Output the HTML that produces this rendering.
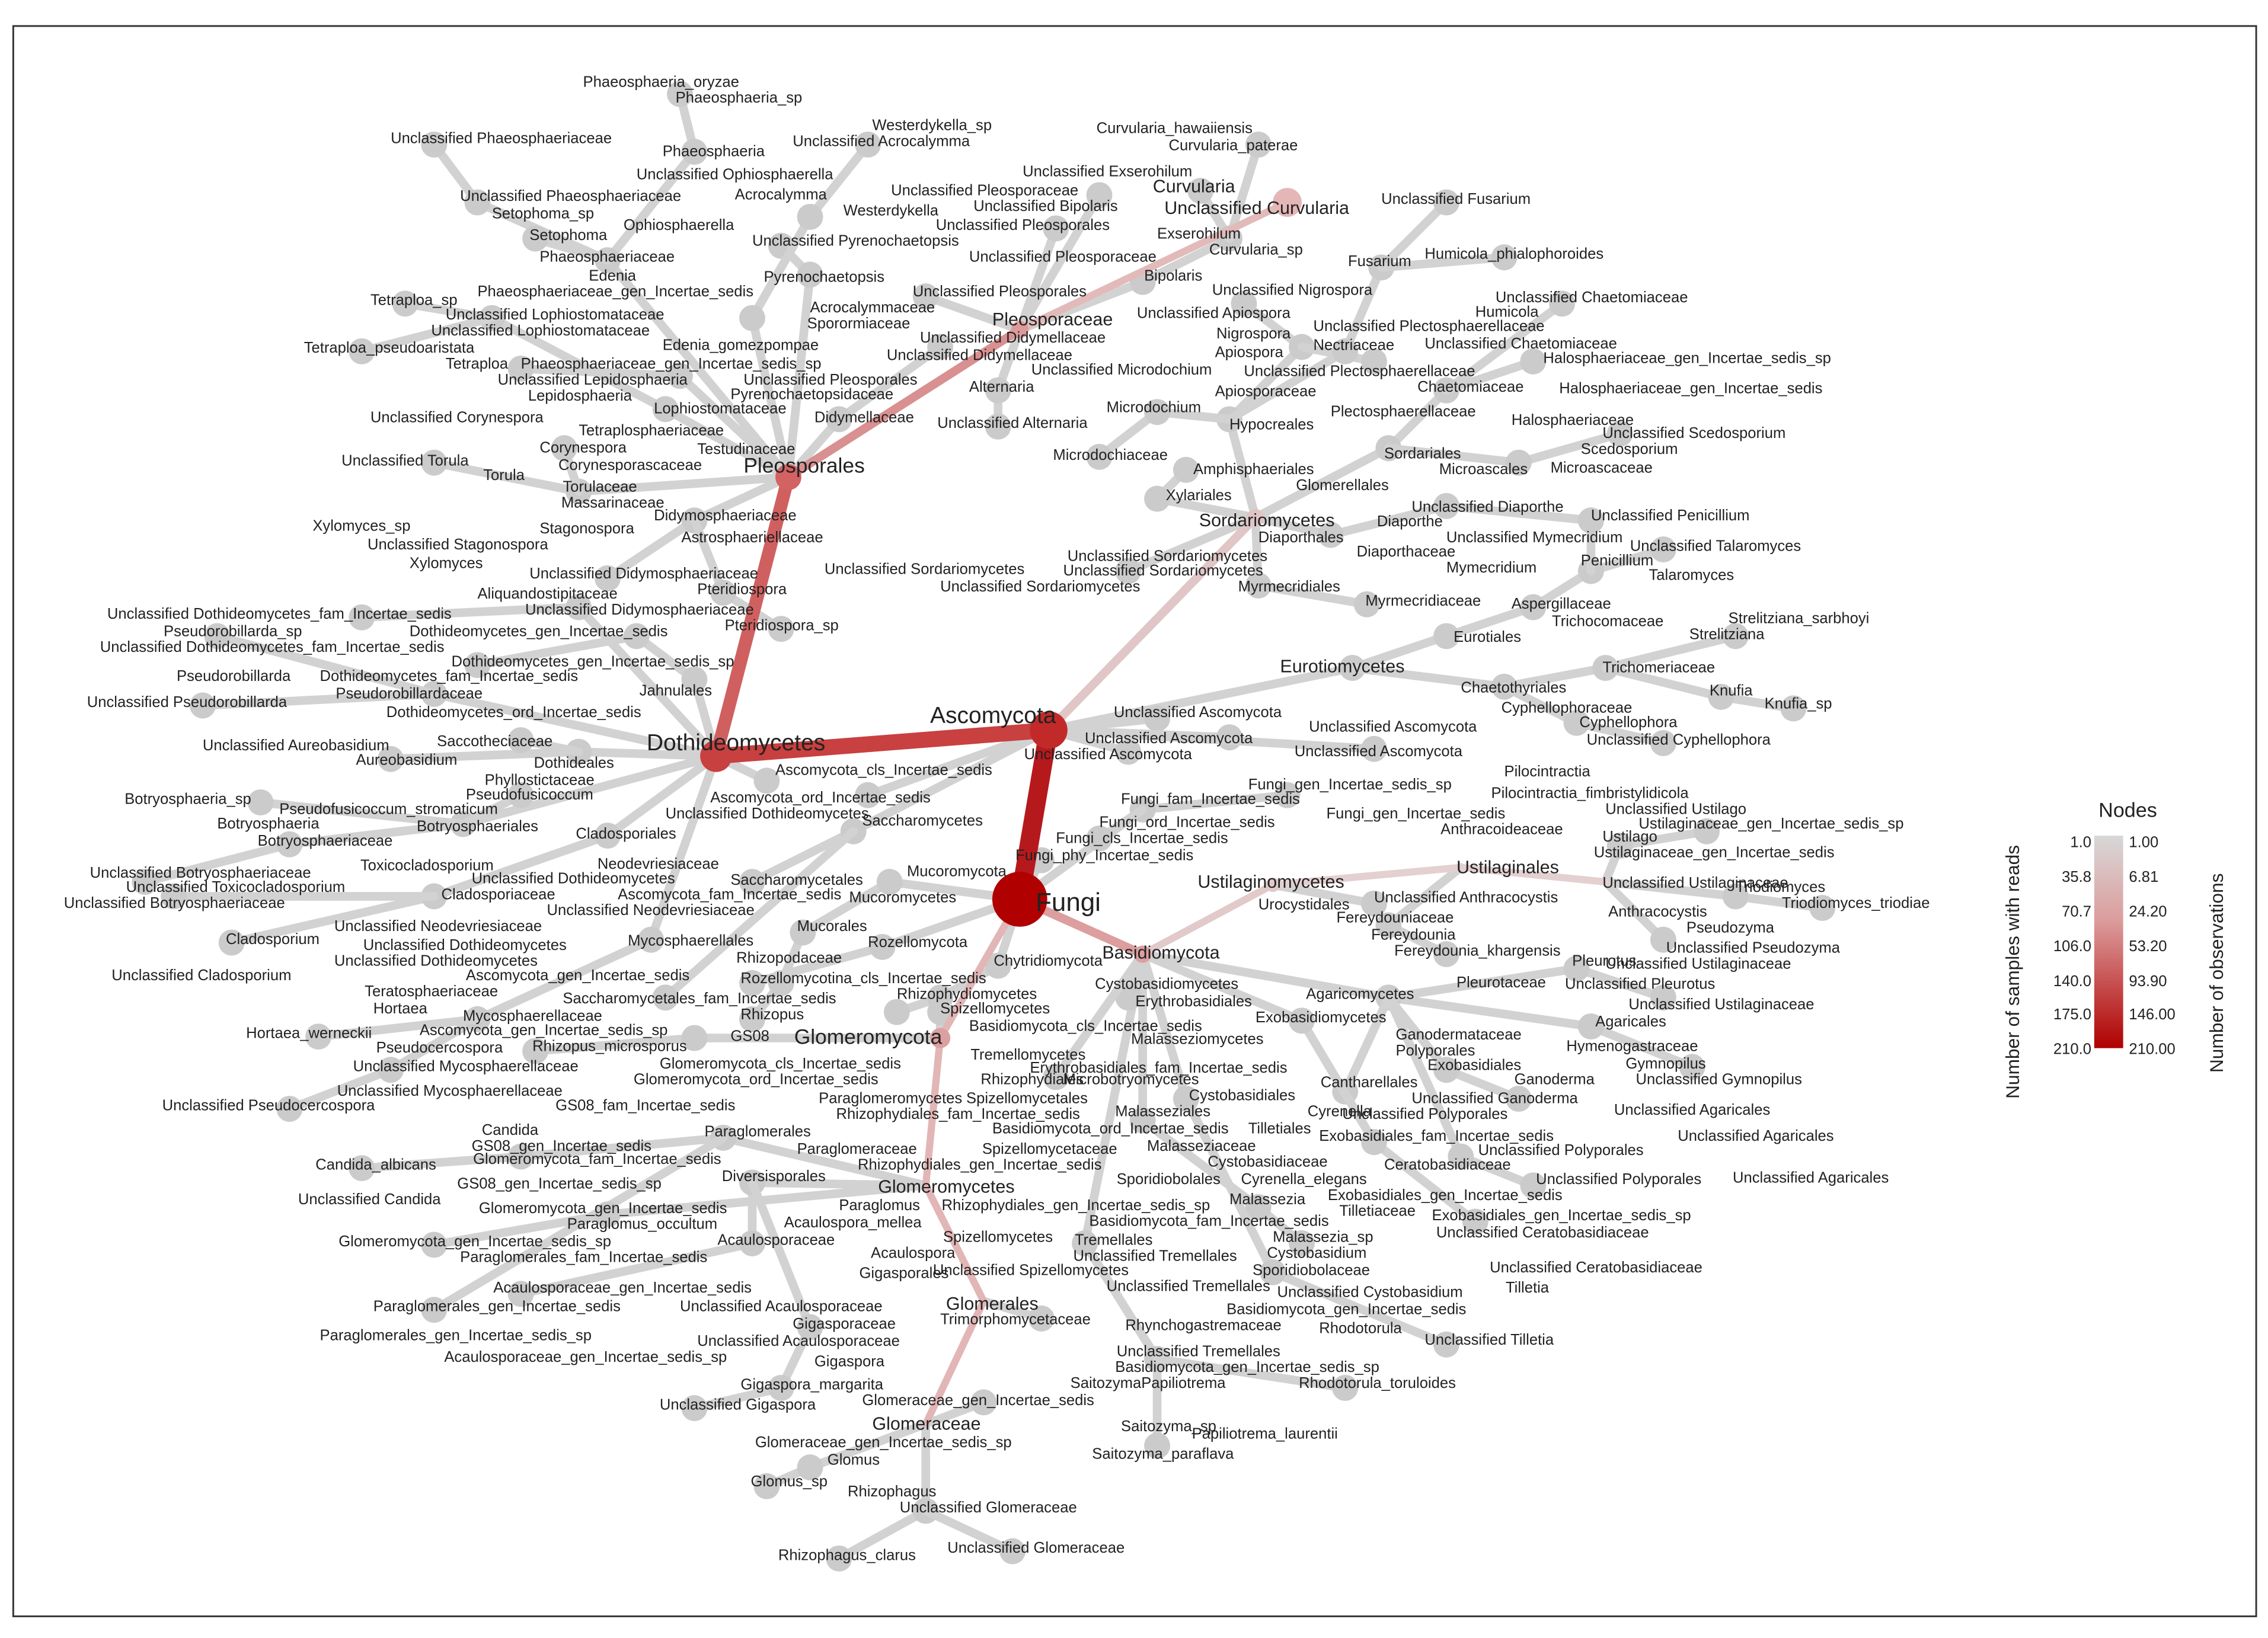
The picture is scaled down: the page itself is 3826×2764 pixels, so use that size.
<!DOCTYPE html>
<html><head><meta charset="utf-8">
<style>
html,body{margin:0;padding:0;background:#fff;}
svg{display:block;}
text{font-family:"Liberation Sans",sans-serif;fill:#222;font-size:10.5px;}
.b{font-size:12.5px;}
.g polyline{fill:none;stroke:#d2d2d2;stroke-width:6;stroke-linejoin:round;stroke-linecap:round;marker-mid:url(#dot);marker-end:url(#dot);}
</style></head><body>
<svg width="3826" height="2764" viewBox="0 0 1568 1133" xmlns="http://www.w3.org/2000/svg">
<defs>
<marker id="dot" markerWidth="4" markerHeight="4" refX="2" refY="2" markerUnits="strokeWidth"><circle cx="2" cy="2" r="1.5" fill="#cbcbcb"/></marker>
<linearGradient id="lg" x1="0" y1="0" x2="0" y2="1"><stop offset="0" stop-color="#d8d8d8"/><stop offset="0.4" stop-color="#dc9c9c"/><stop offset="1" stop-color="#b00000"/></linearGradient>
</defs>
<rect x="0" y="0" width="1568" height="1133" fill="#fff"/>
<rect x="9" y="18" width="1551" height="1100" fill="none" stroke="#333" stroke-width="1.2"/>

<g class="g">
<polyline points="725,505 935,462 1000,440 1060,420 1100,395 1150,380"/>
<polyline points="1100,395 1100,360"/>
<polyline points="935,462 1040,475 1110,462 1190,482 1240,490"/>
<polyline points="1110,462 1200,440"/>
<polyline points="1040,475 1090,500 1150,514"/>
<polyline points="725,505 800,497"/><polyline points="725,505 850,510"/><polyline points="725,505 950,518"/><polyline points="725,505 780,520"/>
<polyline points="868,358 850,290 900,240 860,210"/><polyline points="900,240 950,250"/>
<polyline points="850,290 800,285 760,316"/>
<polyline points="868,358 960,310 1000,270 1080,210"/><polyline points="1000,270 1060,250"/>
<polyline points="960,310 1050,320 1120,300"/>
<polyline points="868,358 920,370 1000,350 1100,360"/>
<polyline points="868,358 870,405 945,418"/><polyline points="868,358 780,395"/>
<polyline points="868,358 800,345 820,325"/>
<polyline points="850,290 930,243 955,185 1000,140"/><polyline points="955,185 1040,178"/>
<polyline points="705,228 790,195 850,165 830,132"/><polyline points="850,165 870,100"/>
<polyline points="705,228 760,135"/><polyline points="705,228 690,270 690,295"/>
<polyline points="705,228 730,158"/><polyline points="705,228 640,205"/>
<polyline points="545,330 420,180 480,105 470,65"/><polyline points="420,180 330,140 300,100"/>
<polyline points="420,180 370,165"/><polyline points="545,330 560,190 540,170"/>
<polyline points="545,330 460,283 340,220 280,210"/><polyline points="340,220 250,243"/>
<polyline points="545,330 580,290 650,240"/>
<polyline points="545,330 400,340 300,320"/><polyline points="400,340 390,310"/>
<polyline points="545,330 480,360 420,400"/><polyline points="480,360 500,410 540,435"/>
<polyline points="545,330 520,220 560,150 600,100"/><polyline points="545,330 470,260 360,255"/>
<polyline points="495,523 400,520 270,525"/><polyline points="400,520 360,512"/>
<polyline points="495,523 300,480 140,488"/><polyline points="300,480 150,440"/>
<polyline points="495,523 480,470 440,440 330,460"/>
<polyline points="495,523 320,570 200,584 100,610"/><polyline points="320,570 180,555"/><polyline points="320,570 360,550"/>
<polyline points="495,523 420,578 300,620 160,652"/><polyline points="300,620 120,620"/>
<polyline points="495,523 450,650 330,705 270,740 200,767"/><polyline points="330,705 220,717"/>
<polyline points="495,523 400,420 250,427"/><polyline points="495,523 530,540"/>
<polyline points="725,505 590,575 520,610"/><polyline points="590,575 460,690"/><polyline points="725,505 600,550"/>
<polyline points="705,622 615,610 555,645 540,680 520,705"/><polyline points="705,622 610,655 520,680"/>
<polyline points="705,622 690,668 650,690 620,700"/>
<polyline points="705,622 790,560 890,550"/><polyline points="790,560 760,580"/><polyline points="705,622 720,595"/>
<polyline points="1010,600 960,640 1000,660"/><polyline points="880,612 950,625"/>
<polyline points="1110,610 1200,620 1260,628"/><polyline points="1110,610 1120,585 1180,575"/><polyline points="1110,610 1150,650"/>
<polyline points="790,660 960,690 1100,710 1170,738"/><polyline points="960,690 1000,740 1050,760"/>
<polyline points="960,690 1010,800 1060,820"/><polyline points="960,690 930,755"/>
<polyline points="960,690 1090,670 1150,690"/>
<polyline points="790,660 900,706 950,790 1020,845"/>
<polyline points="790,660 790,775 870,835 900,860"/>
<polyline points="790,660 820,760 880,880 1000,930"/>
<polyline points="790,660 750,860 800,940 800,1000"/><polyline points="800,940 930,960"/>
<polyline points="790,660 780,690"/><polyline points="790,660 730,745"/>
<polyline points="650,718 480,718 370,727"/>
<polyline points="640,820 500,787 360,800 250,808"/><polyline points="500,787 300,906"/>
<polyline points="640,820 520,818 520,860 360,895"/>
<polyline points="520,818 560,918 540,960 480,974"/>
<polyline points="640,820 420,840 300,861"/><polyline points="650,718 650,700"/>
<polyline points="680,900 720,912"/>
<polyline points="640,985 640,1045 580,1078"/><polyline points="640,1045 700,1073"/>
<polyline points="640,985 560,1015 530,1028"/><polyline points="640,985 680,970"/>
</g>

<g fill="none" stroke-linecap="round">
<line x1="705" y1="228" x2="890" y2="140" stroke="#e2baba" stroke-width="5"/>
<line x1="725" y1="505" x2="868" y2="358" stroke="#e0c6c6" stroke-width="6"/>
<line x1="790" y1="660" x2="880" y2="612" stroke="#e2caca" stroke-width="5"/>
<polyline points="880,612 1010,600 1110,610" stroke="#e4d0d0" stroke-width="5"/>
<line x1="705" y1="622" x2="790" y2="660" stroke="#dc9e9e" stroke-width="6"/>
<polyline points="705,622 650,718 640,820 680,900 640,985" stroke="#e2b6b6" stroke-width="5"/>
<line x1="545" y1="330" x2="705" y2="228" stroke="#d99090" stroke-width="6"/>
<line x1="495" y1="523" x2="545" y2="330" stroke="#d06060" stroke-width="9"/>
<line x1="725" y1="505" x2="495" y2="523" stroke="#c8403f" stroke-width="11"/>
<line x1="705" y1="622" x2="725" y2="505" stroke="#b6191c" stroke-width="13"/>
</g>
<circle cx="890" cy="140" r="10" fill="#e4b6b6"/>
<circle cx="705" cy="228" r="6" fill="#dd9a9a"/>
<circle cx="545" cy="330" r="9" fill="#d36262"/>
<circle cx="495" cy="523" r="11" fill="#c94040"/>
<circle cx="725" cy="505" r="13" fill="#c22a2a"/>
<circle cx="790" cy="660" r="6" fill="#dca0a0"/>
<circle cx="650" cy="718" r="7" fill="#dca0a0"/>
<circle cx="868" cy="358" r="6" fill="#e0c4c4"/>
<circle cx="880" cy="612" r="5" fill="#e2caca"/>
<circle cx="705" cy="622" r="19" fill="#b00000"/>

<g>
<text x="403" y="60">Phaeosphaeria_oryzae</text>
<text x="467" y="71">Phaeosphaeria_sp</text>
<text x="270" y="99">Unclassified Phaeosphaeriaceae</text>
<text x="603" y="90">Westerdykella_sp</text>
<text x="758" y="92">Curvularia_hawaiiensis</text>
<text x="458" y="108">Phaeosphaeria</text>
<text x="548" y="101">Unclassified Acrocalymma</text>
<text x="808" y="104">Curvularia_paterae</text>
<text x="440" y="124">Unclassified Ophiosphaerella</text>
<text x="707" y="122">Unclassified Exserohilum</text>
<text x="318" y="139">Unclassified Phaeosphaeriaceae</text>
<text x="508" y="138">Acrocalymma</text>
<text x="616" y="135">Unclassified Pleosporaceae</text>
<text class="b" x="797" y="133">Curvularia</text>
<text x="340" y="151">Setophoma_sp</text>
<text x="583" y="149">Westerdykella</text>
<text x="673" y="146">Unclassified Bipolaris</text>
<text class="b" x="805" y="148">Unclassified Curvularia</text>
<text x="955" y="141">Unclassified Fusarium</text>
<text x="431" y="159">Ophiosphaerella</text>
<text x="647" y="159">Unclassified Pleosporales</text>
<text x="366" y="166">Setophoma</text>
<text x="520" y="170">Unclassified Pyrenochaetopsis</text>
<text x="800" y="165">Exserohilum</text>
<text x="836" y="176">Curvularia_sp</text>
<text x="373" y="181">Phaeosphaeriaceae</text>
<text x="670" y="181">Unclassified Pleosporaceae</text>
<text x="932" y="184">Fusarium</text>
<text x="985" y="179">Humicola_phialophoroides</text>
<text x="407" y="194">Edenia</text>
<text x="528" y="195">Pyrenochaetopsis</text>
<text x="791" y="194">Bipolaris</text>
<text x="256" y="211">Tetraploa_sp</text>
<text x="330" y="205">Phaeosphaeriaceae_gen_Incertae_sedis</text>
<text x="631" y="205">Unclassified Pleosporales</text>
<text x="838" y="204">Unclassified Nigrospora</text>
<text x="1034" y="209">Unclassified Chaetomiaceae</text>
<text x="308" y="221">Unclassified Lophiostomataceae</text>
<text x="560" y="216">Acrocalymmaceae</text>
<text class="b" x="686" y="225">Pleosporaceae</text>
<text x="786" y="220">Unclassified Apiospora</text>
<text x="1020" y="219">Humicola</text>
<text x="298" y="232">Unclassified Lophiostomataceae</text>
<text x="558" y="227">Sporormiaceae</text>
<text x="636" y="237">Unclassified Didymellaceae</text>
<text x="841" y="234">Nigrospora</text>
<text x="908" y="229">Unclassified Plectosphaerellaceae</text>
<text x="210" y="244">Tetraploa_pseudoaristata</text>
<text x="458" y="242">Edenia_gomezpompae</text>
<text x="613" y="249">Unclassified Didymellaceae</text>
<text x="840" y="247">Apiospora</text>
<text x="908" y="242">Nectriaceae</text>
<text x="985" y="241">Unclassified Chaetomiaceae</text>
<text x="1067" y="251">Halosphaeriaceae_gen_Incertae_sedis_sp</text>
<text x="308" y="255">Tetraploa</text>
<text x="360" y="255">Phaeosphaeriaceae_gen_Incertae_sedis_sp</text>
<text x="713" y="259">Unclassified Microdochium</text>
<text x="860" y="260">Unclassified Plectosphaerellaceae</text>
<text x="344" y="266">Unclassified Lepidosphaeria</text>
<text x="514" y="266">Unclassified Pleosporales</text>
<text x="670" y="271">Alternaria</text>
<text x="980" y="271">Chaetomiaceae</text>
<text x="1078" y="272">Halosphaeriaceae_gen_Incertae_sedis</text>
<text x="365" y="277">Lepidosphaeria</text>
<text x="505" y="276">Pyrenochaetopsidaceae</text>
<text x="840" y="274">Apiosporaceae</text>
<text x="452" y="286">Lophiostomataceae</text>
<text x="765" y="285">Microdochium</text>
<text x="920" y="288">Plectosphaerellaceae</text>
<text x="256" y="292">Unclassified Corynespora</text>
<text x="563" y="292">Didymellaceae</text>
<text x="648" y="296">Unclassified Alternaria</text>
<text x="850" y="297">Hypocreales</text>
<text x="1045" y="294">Halosphaeriaceae</text>
<text x="400" y="301">Tetraplosphaeriaceae</text>
<text x="1108" y="303">Unclassified Scedosporium</text>
<text x="373" y="313">Corynespora</text>
<text x="482" y="314">Testudinaceae</text>
<text x="1093" y="314">Scedosporium</text>
<text x="236" y="322">Unclassified Torula</text>
<text x="386" y="325">Corynesporascaceae</text>
<text x="514" y="327" style="font-size:14.5px">Pleosporales</text>
<text x="728" y="318">Microdochiaceae</text>
<text x="957" y="317">Sordariales</text>
<text x="334" y="332">Torula</text>
<text x="825" y="328">Amphisphaeriales</text>
<text x="995" y="328">Microascales</text>
<text x="1072" y="327">Microascaceae</text>
<text x="389" y="340">Torulaceae</text>
<text x="896" y="339">Glomerellales</text>
<text x="388" y="351">Massarinaceae</text>
<text x="806" y="346">Xylariales</text>
<text x="976" y="354">Unclassified Diaporthe</text>
<text x="452" y="360">Didymosphaeriaceae</text>
<text x="1100" y="360">Unclassified Penicillium</text>
<text x="216" y="367">Xylomyces_sp</text>
<text x="373" y="369">Stagonospora</text>
<text class="b" x="829" y="364">Sordariomycetes</text>
<text x="952" y="364">Diaporthe</text>
<text x="254" y="380">Unclassified Stagonospora</text>
<text x="471" y="375">Astrosphaeriellaceae</text>
<text x="870" y="375">Diaporthales</text>
<text x="1000" y="375">Unclassified Mymecridium</text>
<text x="1127" y="381">Unclassified Talaromyces</text>
<text x="938" y="385">Diaporthaceae</text>
<text x="1093" y="391">Penicillium</text>
<text x="283" y="393">Xylomyces</text>
<text x="738" y="388">Unclassified Sordariomycetes</text>
<text x="1000" y="396">Mymecridium</text>
<text x="366" y="400">Unclassified Didymosphaeriaceae</text>
<text x="570" y="397">Unclassified Sordariomycetes</text>
<text x="735" y="398">Unclassified Sordariomycetes</text>
<text x="1140" y="401">Talaromyces</text>
<text x="482" y="411">Pteridiospora</text>
<text x="650" y="409">Unclassified Sordariomycetes</text>
<text x="856" y="409">Myrmecridiales</text>
<text x="330" y="414">Aliquandostipitaceae</text>
<text x="944" y="419">Myrmecridiaceae</text>
<text x="1045" y="421">Aspergillaceae</text>
<text x="74" y="428">Unclassified Dothideomycetes_fam_Incertae_sedis</text>
<text x="363" y="425">Unclassified Didymosphaeriaceae</text>
<text x="1195" y="431">Strelitziana_sarbhoyi</text>
<text x="1073" y="433">Trichocomaceae</text>
<text x="113" y="440">Pseudorobillarda_sp</text>
<text x="283" y="440">Dothideomycetes_gen_Incertae_sedis</text>
<text x="501" y="436">Pteridiospora_sp</text>
<text x="1005" y="444">Eurotiales</text>
<text x="1168" y="442">Strelitziana</text>
<text x="69" y="451">Unclassified Dothideomycetes_fam_Incertae_sedis</text>
<text x="312" y="461">Dothideomycetes_gen_Incertae_sedis_sp</text>
<text class="b" x="885" y="465">Eurotiomycetes</text>
<text x="1108" y="465">Trichomeriaceae</text>
<text x="122" y="471">Pseudorobillarda</text>
<text x="221" y="471">Dothideomycetes_fam_Incertae_sedis</text>
<text x="442" y="481">Jahnulales</text>
<text x="1010" y="479">Chaetothyriales</text>
<text x="1182" y="481">Knufia</text>
<text x="232" y="483">Pseudorobillardaceae</text>
<text x="60" y="489">Unclassified Pseudorobillarda</text>
<text x="267" y="496">Dothideomycetes_ord_Incertae_sedis</text>
<text x="643" y="500" style="font-size:16px">Ascomycota</text>
<text x="770" y="496">Unclassified Ascomycota</text>
<text x="1038" y="493">Cyphellophoraceae</text>
<text x="1220" y="490">Knufia_sp</text>
<text x="1092" y="503">Cyphellophora</text>
<text x="905" y="506">Unclassified Ascomycota</text>
<text x="140" y="519">Unclassified Aureobasidium</text>
<text x="302" y="516">Saccotheciaceae</text>
<text x="447" y="519" style="font-size:16px">Dothideomycetes</text>
<text x="750" y="514">Unclassified Ascomycota</text>
<text x="1097" y="515">Unclassified Cyphellophora</text>
<text x="246" y="529">Aureobasidium</text>
<text x="708" y="525">Unclassified Ascomycota</text>
<text x="895" y="523">Unclassified Ascomycota</text>
<text x="369" y="531">Dothideales</text>
<text x="536" y="536">Ascomycota_cls_Incertae_sedis</text>
<text x="1040" y="537">Pilocintractia</text>
<text x="335" y="543">Phyllostictaceae</text>
<text x="863" y="546">Fungi_gen_Incertae_sedis_sp</text>
<text x="1031" y="552">Pilocintractia_fimbristylidicola</text>
<text x="86" y="556">Botryosphaeria_sp</text>
<text x="322" y="553">Pseudofusicoccum</text>
<text x="491" y="555">Ascomycota_ord_Incertae_sedis</text>
<text x="775" y="556">Fungi_fam_Incertae_sedis</text>
<text x="1110" y="563">Unclassified Ustilago</text>
<text x="193" y="563">Pseudofusicoccum_stromaticum</text>
<text x="460" y="566">Unclassified Dothideomycetes</text>
<text x="917" y="566">Fungi_gen_Incertae_sedis</text>
<text x="1133" y="573">Ustilaginaceae_gen_Incertae_sedis_sp</text>
<text x="150" y="573">Botryosphaeria</text>
<text x="288" y="575">Botryosphaeriales</text>
<text x="596" y="571">Saccharomycetes</text>
<text x="760" y="572">Fungi_ord_Incertae_sedis</text>
<text x="996" y="577">Anthracoideaceae</text>
<text x="1108" y="582">Ustilago</text>
<text x="178" y="585">Botryosphaeriaceae</text>
<text x="398" y="580">Cladosporiales</text>
<text x="730" y="583">Fungi_cls_Incertae_sedis</text>
<text x="1102" y="593">Ustilaginaceae_gen_Incertae_sedis</text>
<text x="249" y="602">Toxicocladosporium</text>
<text x="413" y="601">Neodevriesiaceae</text>
<text x="702" y="595">Fungi_phy_Incertae_sedis</text>
<text x="62" y="607">Unclassified Botryosphaeriaceae</text>
<text x="326" y="611">Unclassified Dothideomycetes</text>
<text x="505" y="612">Saccharomycetales</text>
<text x="627" y="606">Mucoromycota</text>
<text class="b" x="1007" y="604">Ustilaginales</text>
<text x="87" y="617">Unclassified Toxicocladosporium</text>
<text x="305" y="622">Cladosporiaceae</text>
<text x="427" y="622">Ascomycota_fam_Incertae_sedis</text>
<text x="587" y="624">Mucoromycetes</text>
<text class="b" x="828" y="614">Ustilaginomycetes</text>
<text x="1108" y="614">Unclassified Ustilaginaceae</text>
<text x="1200" y="617">Triodiomyces</text>
<text x="44" y="628">Unclassified Botryosphaeriaceae</text>
<text x="378" y="633">Unclassified Neodevriesiaceae</text>
<text x="716" y="630" style="font-size:18px">Fungi</text>
<text x="950" y="624">Unclassified Anthracocystis</text>
<text x="1232" y="628">Triodiomyces_triodiae</text>
<text x="1112" y="634">Anthracocystis</text>
<text x="231" y="644">Unclassified Neodevriesiaceae</text>
<text x="551" y="644">Mucorales</text>
<text x="870" y="629">Urocystidales</text>
<text x="924" y="638">Fereydouniaceae</text>
<text x="1166" y="645">Pseudozyma</text>
<text x="156" y="653">Cladosporium</text>
<text x="251" y="657">Unclassified Dothideomycetes</text>
<text x="434" y="654">Mycosphaerellales</text>
<text x="600" y="655">Rozellomycota</text>
<text x="948" y="650">Fereydounia</text>
<text x="1152" y="659">Unclassified Pseudozyma</text>
<text x="231" y="668">Unclassified Dothideomycetes</text>
<text x="509" y="666">Rhizopodaceae</text>
<text x="687" y="668">Chytridiomycota</text>
<text class="b" x="762" y="663">Basidiomycota</text>
<text x="964" y="661">Fereydounia_khargensis</text>
<text x="1087" y="668">Pleurotus</text>
<text x="1110" y="670">Unclassified Ustilaginaceae</text>
<text x="77" y="678">Unclassified Cladosporium</text>
<text x="322" y="678">Ascomycota_gen_Incertae_sedis</text>
<text x="512" y="680">Rozellomycotina_cls_Incertae_sedis</text>
<text x="757" y="684">Cystobasidiomycetes</text>
<text x="1007" y="683">Pleurotaceae</text>
<text x="1082" y="684">Unclassified Pleurotus</text>
<text x="252" y="689">Teratosphaeriaceae</text>
<text x="620" y="691">Rhizophydiomycetes</text>
<text x="389" y="694">Saccharomycetales_fam_Incertae_sedis</text>
<text x="903" y="691">Agaricomycetes</text>
<text x="1126" y="698">Unclassified Ustilaginaceae</text>
<text x="258" y="701">Hortaea</text>
<text x="650" y="701">Spizellomycetes</text>
<text x="785" y="696">Erythrobasidiales</text>
<text x="320" y="706">Mycosphaerellaceae</text>
<text x="512" y="705">Rhizopus</text>
<text x="868" y="707">Exobasidiomycetes</text>
<text x="670" y="713">Basidiomycota_cls_Incertae_sedis</text>
<text x="1103" y="710">Agaricales</text>
<text x="170" y="718">Hortaea_werneckii</text>
<text x="290" y="716">Ascomycota_gen_Incertae_sedis_sp</text>
<text x="505" y="720">GS08</text>
<text x="549" y="722" style="font-size:14.5px">Glomeromycota</text>
<text x="965" y="719">Ganodermataceae</text>
<text x="260" y="728">Pseudocercospora</text>
<text x="368" y="727">Rhizopus_microsporus</text>
<text x="782" y="722">Malasseziomycetes</text>
<text x="965" y="730">Polyporales</text>
<text x="1083" y="727">Hymenogastraceae</text>
<text x="244" y="741">Unclassified Mycosphaerellaceae</text>
<text x="456" y="739">Glomeromycota_cls_Incertae_sedis</text>
<text x="671" y="733">Tremellomycetes</text>
<text x="987" y="740">Exobasidiales</text>
<text x="1124" y="739">Gymnopilus</text>
<text x="712" y="742">Erythrobasidiales_fam_Incertae_sedis</text>
<text x="438" y="750">Glomeromycota_ord_Incertae_sedis</text>
<text x="678" y="750">Rhizophydiales</text>
<text x="735" y="750">Microbotryomycetes</text>
<text x="913" y="752">Cantharellales</text>
<text x="1047" y="750">Ganoderma</text>
<text x="1131" y="750">Unclassified Gymnopilus</text>
<text x="233" y="758">Unclassified Mycosphaerellaceae</text>
<text x="566" y="763">Paraglomeromycetes</text>
<text x="668" y="763">Spizellomycetales</text>
<text x="822" y="761">Cystobasidiales</text>
<text x="976" y="763">Unclassified Ganoderma</text>
<text x="112" y="768">Unclassified Pseudocercospora</text>
<text x="384" y="768">GS08_fam_Incertae_sedis</text>
<text x="578" y="774">Rhizophydiales_fam_Incertae_sedis</text>
<text x="771" y="772">Malasseziales</text>
<text x="904" y="772">Cyrenella</text>
<text x="928" y="774">Unclassified Polyporales</text>
<text x="1116" y="771">Unclassified Agaricales</text>
<text x="686" y="784">Basidiomycota_ord_Incertae_sedis</text>
<text x="863" y="784">Tilletiales</text>
<text x="333" y="785">Candida</text>
<text x="487" y="786">Paraglomerales</text>
<text x="912" y="789">Exobasidiales_fam_Incertae_sedis</text>
<text x="1160" y="789">Unclassified Agaricales</text>
<text x="326" y="796">GS08_gen_Incertae_sedis</text>
<text x="551" y="798">Paraglomeraceae</text>
<text x="679" y="798">Spizellomycetaceae</text>
<text x="793" y="796">Malasseziaceae</text>
<text x="1022" y="799">Unclassified Polyporales</text>
<text x="218" y="809">Candida_albicans</text>
<text x="327" y="805">Glomeromycota_fam_Incertae_sedis</text>
<text x="593" y="809">Rhizophydiales_gen_Incertae_sedis</text>
<text x="835" y="807">Cystobasidiaceae</text>
<text x="957" y="809">Ceratobasidiaceae</text>
<text x="499" y="817">Diversisporales</text>
<text x="772" y="819">Sporidiobolales</text>
<text x="858" y="819">Cyrenella_elegans</text>
<text x="1062" y="819">Unclassified Polyporales</text>
<text x="1198" y="818">Unclassified Agaricales</text>
<text x="316" y="822">GS08_gen_Incertae_sedis_sp</text>
<text class="b" x="607" y="825">Glomeromycetes</text>
<text x="918" y="830">Exobasidiales_gen_Incertae_sedis</text>
<text x="206" y="833">Unclassified Candida</text>
<text x="580" y="837">Paraglomus</text>
<text x="651" y="837">Rhizophydiales_gen_Incertae_sedis_sp</text>
<text x="850" y="833">Malassezia</text>
<text x="331" y="839">Glomeromycota_gen_Incertae_sedis</text>
<text x="926" y="841">Tilletiaceae</text>
<text x="990" y="844">Exobasidiales_gen_Incertae_sedis_sp</text>
<text x="392" y="850">Paraglomus_occultum</text>
<text x="542" y="849">Acaulospora_mellea</text>
<text x="753" y="848">Basidiomycota_fam_Incertae_sedis</text>
<text x="993" y="856">Unclassified Ceratobasidiaceae</text>
<text x="496" y="861">Acaulosporaceae</text>
<text x="652" y="859">Spizellomycetes</text>
<text x="743" y="861">Tremellales</text>
<text x="880" y="859">Malassezia_sp</text>
<text x="234" y="862">Glomeromycota_gen_Incertae_sedis_sp</text>
<text x="602" y="870">Acaulospora</text>
<text x="742" y="872">Unclassified Tremellales</text>
<text x="876" y="870">Cystobasidium</text>
<text x="318" y="873">Paraglomerales_fam_Incertae_sedis</text>
<text x="866" y="882">Sporidiobolaceae</text>
<text x="1030" y="880">Unclassified Ceratobasidiaceae</text>
<text x="594" y="884">Gigasporales</text>
<text x="645" y="882">Unclassified Spizellomycetes</text>
<text x="765" y="893">Unclassified Tremellales</text>
<text x="1041" y="894">Tilletia</text>
<text x="341" y="894">Acaulosporaceae_gen_Incertae_sedis</text>
<text x="883" y="897">Unclassified Cystobasidium</text>
<text x="258" y="907">Paraglomerales_gen_Incertae_sedis</text>
<text x="470" y="907">Unclassified Acaulosporaceae</text>
<text class="b" x="654" y="906">Glomerales</text>
<text x="848" y="909">Basidiomycota_gen_Incertae_sedis</text>
<text x="548" y="919">Gigasporaceae</text>
<text x="650" y="916">Trimorphomycetaceae</text>
<text x="778" y="920">Rhynchogastremaceae</text>
<text x="912" y="922">Rhodotorula</text>
<text x="221" y="927">Paraglomerales_gen_Incertae_sedis_sp</text>
<text x="482" y="931">Unclassified Acaulosporaceae</text>
<text x="985" y="930">Unclassified Tilletia</text>
<text x="307" y="942">Acaulosporaceae_gen_Incertae_sedis_sp</text>
<text x="563" y="945">Gigaspora</text>
<text x="772" y="938">Unclassified Tremellales</text>
<text x="771" y="949">Basidiomycota_gen_Incertae_sedis_sp</text>
<text x="740" y="960">Saitozyma</text>
<text x="789" y="960">Papiliotrema</text>
<text x="898" y="960">Rhodotorula_toruloides</text>
<text x="512" y="961">Gigaspora_margarita</text>
<text x="456" y="975">Unclassified Gigaspora</text>
<text x="596" y="972">Glomeraceae_gen_Incertae_sedis</text>
<text class="b" x="603" y="989">Glomeraceae</text>
<text x="775" y="990">Saitozyma_sp</text>
<text x="824" y="995">Papiliotrema_laurentii</text>
<text x="522" y="1001">Glomeraceae_gen_Incertae_sedis_sp</text>
<text x="755" y="1009">Saitozyma_paraflava</text>
<text x="572" y="1013">Glomus</text>
<text x="519" y="1028">Glomus_sp</text>
<text x="586" y="1035">Rhizophagus</text>
<text x="622" y="1046">Unclassified Glomeraceae</text>
<text x="538" y="1079">Rhizophagus_clarus</text>
<text x="655" y="1074">Unclassified Glomeraceae</text>
</g>

<g>
<text x="1451" y="565" style="font-size:14px">Nodes</text>
<rect x="1448" y="578" width="20" height="147" fill="url(#lg)"/>
<g style="font-size:12.5px" text-anchor="end">
<text x="1446" y="586">1.0</text><text x="1446" y="610">35.8</text><text x="1446" y="634">70.7</text><text x="1446" y="658">106.0</text><text x="1446" y="682">140.0</text><text x="1446" y="705">175.0</text><text x="1446" y="729">210.0</text>
</g>
<g style="font-size:12.5px">
<text x="1472" y="586">1.00</text><text x="1472" y="610">6.81</text><text x="1472" y="634">24.20</text><text x="1472" y="658">53.20</text><text x="1472" y="682">93.90</text><text x="1472" y="705">146.00</text><text x="1472" y="729">210.00</text>
</g>
<text transform="translate(1396,760) rotate(-90)" style="font-size:13px">Number of samples with reads</text>
<text transform="translate(1537,742) rotate(-90)" style="font-size:13px">Number of observations</text>
</g>
</svg>
</body></html>
